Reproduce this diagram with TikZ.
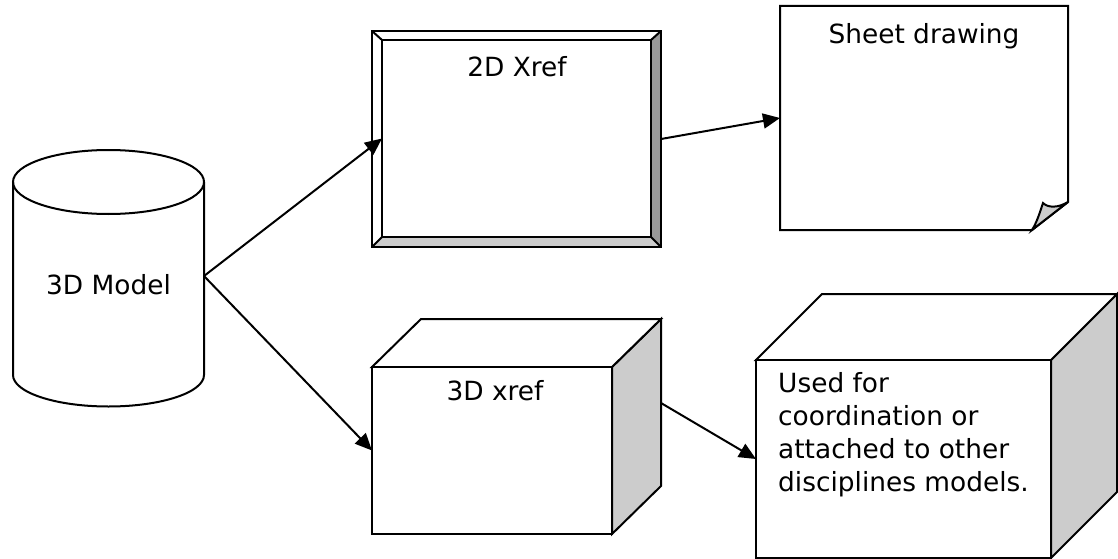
\documentclass[tikz,border=0pt]{standalone}
\usepackage{fontspec}
\setmainfont{DejaVu Sans}
\usetikzlibrary{arrows.meta}
\tikzset{
  outline/.style={draw=black, line width=2pt, line join=miter},
  areabox/.style={outline, fill=white, inner sep=0pt, outer sep=0pt},
  boxlabel/.style={inner sep=0pt, font=\fontsize{26.4}{33}\selectfont},
  link/.style={line width=2pt, -{Triangle[length=17pt,width=15pt]}}
}
\begin{document}
\begin{tikzpicture}[x=1pt,y=-1pt]
  \useasboundingbox (0,0) rectangle (1118,559);

  % Cylinder
  \draw[outline] (13,182) -- (13,375) arc[start angle=180, end angle=0, x radius=95.5, y radius=31.5] -- (204,182);
  \draw[outline] (108.5,182) ellipse[x radius=95.5, y radius=32];
  \coordinate (modelport) at (204,276);
  \node[boxlabel] (model) at (108.5,285) {3D Model};

  % Frame
  \node[areabox, minimum width=289pt, minimum height=216pt] (xrefouter) at (516.5,139) {};
  \fill[black!40] (661,31) -- (651,40) -- (651,237) -- (661,247) -- cycle;
  \fill[black!20] (372,247) -- (382,237) -- (651,237) -- (661,247) -- cycle;
  \node[areabox, minimum width=269pt, minimum height=197pt] (xrefinner) at (516.5,138.5) {};
  \draw[outline] (372,31) -- (382,40) (661,31) -- (651,40) (372,247) -- (382,237) (661,247) -- (651,237);
  \draw[outline] (xrefouter.north west) rectangle (xrefouter.south east);
  \node[boxlabel] (xreftwo) at (517,67) {2D Xref};

  % Sheet with turned corner
  \coordinate (sheetport) at (780,118);
  \draw[outline, fill=white] (780,6) -- (1068,6) -- (1068,202) -- (1032,230) -- (780,230) -- cycle;
  \draw[outline, fill=black!20] (1032,230) .. controls (1037,222) and (1040,212) .. (1043,203) .. controls (1048,208) and (1058,208) .. (1068,202) -- cycle;
  \node[boxlabel] (sheet) at (924,36) {Sheet drawing};

  % Small cube
  \draw[outline, fill=black!20] (612,367) -- (661,319) -- (661,486) -- (612,534) -- cycle;
  \draw[outline, fill=white] (372,367) -- (421,319) -- (661,319) -- (612,367) -- cycle;
  \node[areabox, minimum width=240pt, minimum height=167pt] (xreffront) at (492,450.5) {};
  \coordinate (xrefport) at (661,403);
  \node[boxlabel] (xrefthree) at (495,391) {3D xref};

  % Big cube
  \draw[outline, fill=black!20] (1051,360) -- (1117,294) -- (1117,492) -- (1051,558) -- cycle;
  \draw[outline, fill=white] (756,360) -- (822,294) -- (1117,294) -- (1051,360) -- cycle;
  \node[areabox, minimum width=295pt, minimum height=198pt] (usedfront) at (903.5,459) {};
  \node[boxlabel, anchor=north west, align=left] (used) at (778,372) {Used for\\coordination or\\attached to other\\disciplines models.};

  % Arrows
  \draw[link] (modelport) -- (xrefinner.west);
  \draw[link] (modelport) -- (xreffront.west);
  \draw[link] (xrefouter.east) -- (sheetport);
  \draw[link] (xrefport) -- (usedfront.west);
\end{tikzpicture}
\end{document}
